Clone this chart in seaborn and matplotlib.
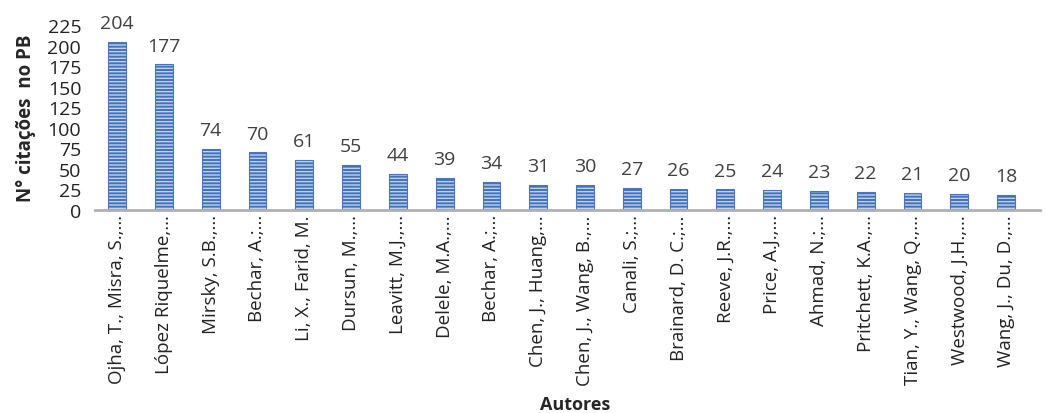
import matplotlib
matplotlib.use("Agg")
import matplotlib.pyplot as plt
import seaborn as sns
import pandas as pd

autores = ["Ojha, T., Misra, S.,...", "López Riquelme,...", "Mirsky, S.B.,...",
           "Bechar, A.;...", "Li, X., Farid, M.", "Dursun, M.,...",
           "Leavitt, M.J.,...", "Delele, M.A.,...", "Bechar, A.;...",
           "Chen, J., Huang,...", "Chen, J., Wang, B.,...", "Canali, S.;...",
           "Brainard, D. C.;...", "Reeve, J.R.,...", "Price, A.J.,...",
           "Ahmad, N.;...", "Pritchett, K.A.,...", "Tian, Y., Wang, Q.,...",
           "Westwood, J.H.,...", "Wang, J., Du, D.,..."]
citacoes = [204, 177, 74, 70, 61, 55, 44, 39, 34, 31, 30, 27, 26, 25, 24, 23, 22, 21, 20, 18]
yticks = [0, 25, 50, 75, 100, 125, 150, 175, 200, 225]

# duplicate names (Bechar) -> positions by index
df = pd.DataFrame({"pos": [str(i) for i in range(len(autores))], "n": citacoes})

sns.set_style("white")
plt.rcParams["font.family"] = ["Open Sans", "DejaVu Sans"]
plt.rcParams["hatch.linewidth"] = 1.0

fig = plt.figure(figsize=(10.45, 4.14), dpi=100)
ax = fig.add_axes([0.091, 0.4903, 0.904, 0.447])

sns.barplot(data=df, x="pos", y="n", color="#4272b9", width=0.38,
            saturation=1, ax=ax, linewidth=0, hatch="-----")
for p in ax.patches:
    p.set_edgecolor("#bfd1ee")
# outline
for p in list(ax.patches):
    ax.add_patch(plt.Rectangle(p.get_xy(), p.get_width(), p.get_height(),
                               fill=False, edgecolor="#4a76b8", lw=0.8))

for i, v in enumerate(citacoes):
    ax.text(i, v + 12, str(v), ha="center", va="bottom", fontsize=14, color="#404040")

ax.set_ylim(0, 225)
ax.set_yticks(yticks)
ax.set_yticklabels([str(t) for t in yticks], fontsize=14, color="#222222")
ax.set_xticks(range(len(autores)))
ax.set_xticklabels(autores, rotation=90, fontsize=13.5, color="#222222")
ax.set_xlim(-0.47, len(autores) - 0.28)
ax.tick_params(axis="both", length=0, pad=3)
ax.tick_params(axis="y", pad=10)
sns.despine(ax=ax, left=True)
ax.spines["bottom"].set_color("#b0b0b0")
ax.spines["bottom"].set_linewidth(2)
ax.set_ylabel("N° citações  no PB", fontsize=13.5, fontweight="bold", labelpad=8)
ax.set_xlabel("Autores", fontsize=13, fontweight="bold")
ax.xaxis.set_label_coords(0.508, -1.0)

fig.savefig("out.png", dpi=100)
